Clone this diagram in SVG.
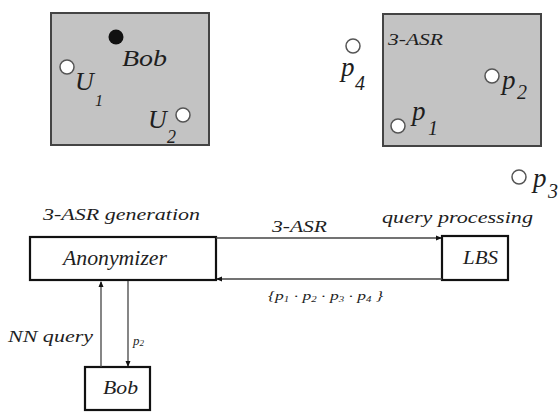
<svg xmlns="http://www.w3.org/2000/svg" width="560" height="412" viewBox="0 0 560 412">
<defs>
<style>
.t{font-family:"Liberation Serif","DejaVu Serif",serif;font-style:italic;fill:#1e1e1e}
.region{fill:#c3c3c3;stroke:#444;stroke-width:2}
.pt{fill:#fff;stroke:#555;stroke-width:1.5}
.box{fill:#fff;stroke:#111;stroke-width:2.2}
.ln{stroke:#444;stroke-width:1.3;fill:none}
</style>
<marker id="ah" markerWidth="6" markerHeight="6" refX="5" refY="3" orient="auto" markerUnits="userSpaceOnUse">
<path d="M0,0.5 L6,3 L0,5.5 Z" fill="#111"/>
</marker>
</defs>
<rect width="560" height="412" fill="#fff"/>
<g id="left-region">
<rect class="region" x="51" y="13" width="158" height="132"/>
<circle cx="116" cy="37" r="7.5" fill="#111"/>
<text class="t" x="122" y="66" font-size="24" textLength="45" lengthAdjust="spacingAndGlyphs">Bob</text>
<circle class="pt" cx="67" cy="67" r="7"/>
<text class="t" x="75" y="90" font-size="26">U</text>
<text class="t" x="95" y="106" font-size="16">1</text>
<circle class="pt" cx="183" cy="115" r="7"/>
<text class="t" x="148" y="128" font-size="26">U</text>
<text class="t" x="167" y="143" font-size="18">2</text>
</g>
<g id="right-region">
<rect class="region" x="383" y="14" width="158" height="132"/>
<text class="t" x="388" y="45" font-size="16" textLength="55" lengthAdjust="spacingAndGlyphs">3-ASR</text>
<circle class="pt" cx="353" cy="46" r="7"/>
<text class="t" x="341" y="76" font-size="27">p</text>
<text class="t" x="355" y="90" font-size="20">4</text>
<circle class="pt" cx="492" cy="76" r="7"/>
<text class="t" x="502" y="89" font-size="27">p</text>
<text class="t" x="517" y="99" font-size="20">2</text>
<circle class="pt" cx="398" cy="126" r="7"/>
<text class="t" x="412" y="120" font-size="27">p</text>
<text class="t" x="428" y="135" font-size="20">1</text>
<circle class="pt" cx="519" cy="177" r="7"/>
<text class="t" x="533" y="187" font-size="27">p</text>
<text class="t" x="548" y="198" font-size="20">3</text>
</g>
<g id="anonymizer">
<text class="t" x="43" y="220" font-size="17" textLength="157" lengthAdjust="spacingAndGlyphs">3-ASR generation</text>
<rect class="box" x="30" y="237" width="186" height="43"/>
<text class="t" x="63" y="265" font-size="20" textLength="104" lengthAdjust="spacingAndGlyphs">Anonymizer</text>
</g>
<g id="lbs">
<text class="t" x="382" y="223" font-size="17" textLength="151" lengthAdjust="spacingAndGlyphs">query processing</text>
<rect class="box" x="442" y="236" width="66" height="44"/>
<text class="t" x="463" y="264" font-size="18" textLength="35" lengthAdjust="spacingAndGlyphs">LBS</text>
</g>
<g id="bob">
<rect class="box" x="85" y="367" width="65" height="43"/>
<text class="t" x="103" y="394" font-size="18" textLength="35" lengthAdjust="spacingAndGlyphs">Bob</text>
</g>
<g id="connectors">
<line class="ln" x1="216" y1="238" x2="441" y2="238" stroke="#777" marker-end="url(#ah)"/>
<text class="t" x="272" y="232" font-size="17" textLength="55" lengthAdjust="spacingAndGlyphs">3-ASR</text>
<line class="ln" x1="442" y1="279" x2="217" y2="279" stroke="#333" marker-end="url(#ah)"/>
<text class="t" x="268" y="300" font-size="13" textLength="115" lengthAdjust="spacingAndGlyphs">{p<tspan font-size="8" dy="2">1</tspan><tspan dy="-2"> · p</tspan><tspan font-size="8" dy="2">2</tspan><tspan dy="-2"> · p</tspan><tspan font-size="8" dy="2">3</tspan><tspan dy="-2"> · p</tspan><tspan font-size="8" dy="2">4</tspan><tspan dy="-2"> }</tspan></text>
<line class="ln" x1="101" y1="367" x2="101" y2="282" marker-end="url(#ah)"/>
<text class="t" x="8" y="342" font-size="17" textLength="85" lengthAdjust="spacingAndGlyphs">NN query</text>
<line class="ln" x1="128" y1="281" x2="128" y2="366" stroke="#888" marker-end="url(#ah)"/>
<text class="t" x="133" y="345" font-size="13">p<tspan font-size="9" dy="1">2</tspan></text>
</g>
</svg>
